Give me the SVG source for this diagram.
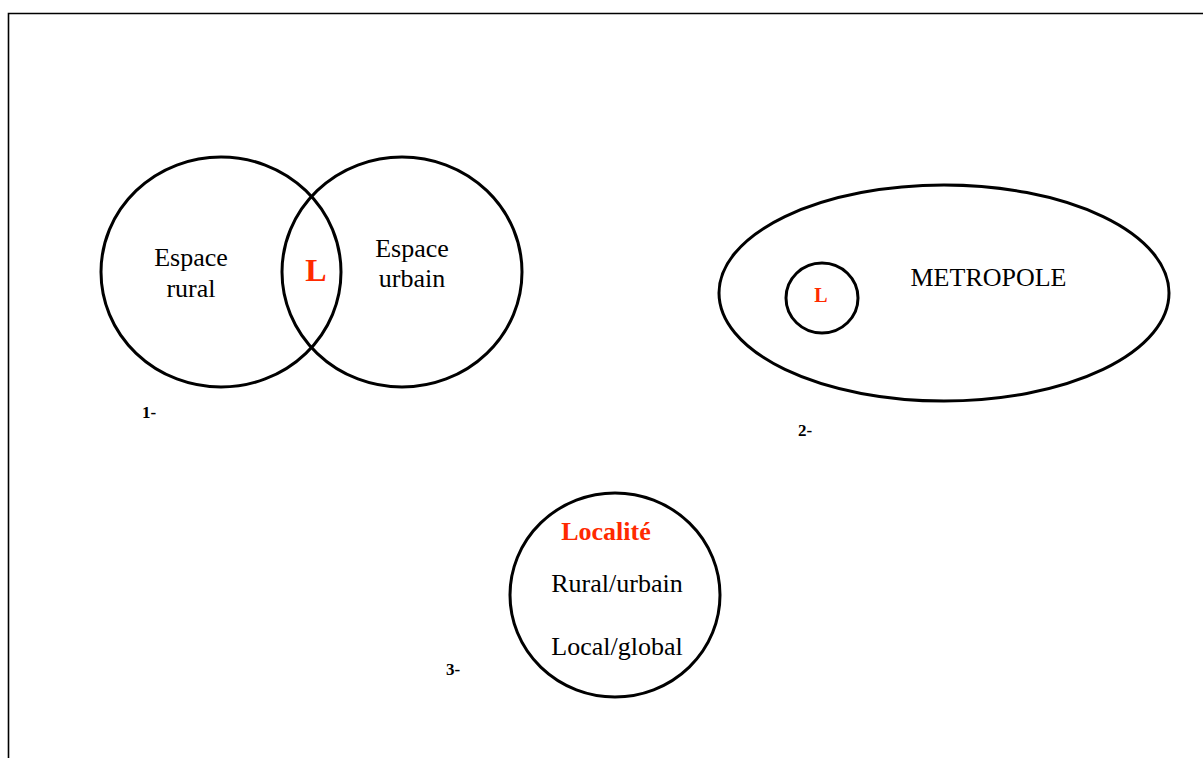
<svg xmlns="http://www.w3.org/2000/svg" width="1203" height="758" viewBox="0 0 1203 758">
<style>
.s{fill:none;stroke:#000;stroke-width:3}
.t{font-family:"Liberation Serif",serif;font-size:26px;fill:#000}
.r{font-family:"Liberation Serif",serif;font-weight:bold;fill:#ff2a00}
.n{font-family:"Liberation Serif",serif;font-weight:bold;font-size:17px;fill:#000}
</style>
<rect x="0" y="0" width="1203" height="758" fill="#fff"/>
<path d="M8.5,760 V13.5 H1210" fill="none" stroke="#000" stroke-width="1.6"/>
<g id="rural">
<ellipse class="s" cx="221" cy="272" rx="120" ry="115"/>
<text class="t" x="191" y="266" text-anchor="middle">Espace</text>
<text class="t" x="191" y="297" text-anchor="middle">rural</text>
</g>
<g id="urbain">
<ellipse class="s" cx="402" cy="272" rx="120" ry="115"/>
<text class="t" x="412" y="257" text-anchor="middle">Espace</text>
<text class="t" x="412" y="287" text-anchor="middle">urbain</text>
</g>
<g id="L1"><text class="r" x="316" y="281" font-size="32" text-anchor="middle">L</text></g>
<g id="label1"><text class="n" x="142" y="418">1-</text></g>
<g id="metropole">
<ellipse class="s" cx="944" cy="293" rx="225" ry="108"/>
<text class="t" x="988.5" y="286" text-anchor="middle">METROPOLE</text>
</g>
<g id="L2">
<ellipse class="s" cx="822" cy="298" rx="36" ry="35"/>
<text class="r" x="821" y="302" font-size="20" text-anchor="middle">L</text>
</g>
<g id="label2"><text class="n" x="798" y="436">2-</text></g>
<g id="localite">
<ellipse class="s" cx="615" cy="595" rx="105" ry="102"/>
<text class="r" x="606" y="540" font-size="26" text-anchor="middle">Localité</text>
<text class="t" x="617" y="592" text-anchor="middle">Rural/urbain</text>
<text class="t" x="617" y="655" text-anchor="middle">Local/global</text>
</g>
<g id="label3"><text class="n" x="446" y="675">3-</text></g>
<g id="connectors"></g>
</svg>
